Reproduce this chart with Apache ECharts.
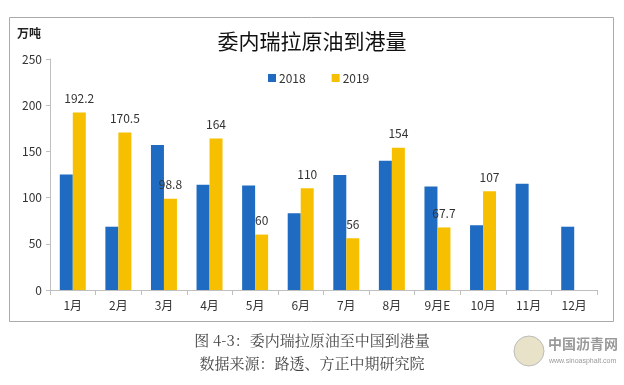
<!DOCTYPE html>
<html><head><meta charset="utf-8">
<script src="https://cdn.jsdelivr.net/npm/echarts@6/dist/echarts.min.js"></script>
<style>html,body{margin:0;padding:0;background:#fff}#c{width:624px;height:385px}</style>
</head><body><div id="c"></div>
<script>
const categories = ['1月','2月','3月','4月','5月','6月','7月','8月','9月E','10月','11月','12月'];
const values2018 = [125, 68.5, 157, 114, 113, 83, 124.5, 140, 112, 70, 115, 68.5];
const values2019 = [192.2, 170.5, 98.8, 164, 60, 110, 56, 154, 67.7, 107, null, null];
const yTicks = {min: 0, max: 250, interval: 50};

const chart = echarts.init(document.getElementById('c'));
const cjk = '"Noto Sans CJK SC", "Noto Sans", sans-serif';
chart.setOption({
  animation: false,
  textStyle: {fontFamily: cjk},
  title: {
    text: '委内瑞拉原油到港量', left: 'center', top: 26,
    textStyle: {fontSize: 21, fontWeight: 'normal', color: '#111', fontFamily: cjk}
  },
  legend: {
    left: 263, top: 67, itemWidth: 8, itemHeight: 8, itemGap: 26,
    icon: 'rect',
    textStyle: {fontSize: 12, color: '#333', padding: [0,0,0,-2]},
    data: ['2018','2019']
  },
  grid: {left: 50, right: 27, top: 59, bottom: 95},
  xAxis: {
    type: 'category', data: categories,
    axisLine: {lineStyle: {color: '#bfbfbf'}},
    axisTick: {show: true, alignWithLabel: false, length: 5, lineStyle: {color: '#bfbfbf'}},
    axisLabel: {fontSize: 12, color: '#333', margin: 9}
  },
  yAxis: {
    type: 'value', min: yTicks.min, max: yTicks.max, interval: yTicks.interval,
    axisLine: {show: true, lineStyle: {color: '#bfbfbf'}},
    axisTick: {show: true, length: 4, lineStyle: {color: '#bfbfbf'}},
    splitLine: {show: false},
    axisLabel: {fontSize: 12, color: '#333', margin: 8}
  },
  series: [
    {name: '2018', type: 'bar', data: values2018, barWidth: 13, barGap: '0%',
     itemStyle: {color: '#1F6BC1'}},
    {name: '2019', type: 'bar', data: values2019, barWidth: 13,
     itemStyle: {color: '#F6C000'},
     label: {show: true, position: 'top', distance: 8, fontSize: 12, color: '#333'}}
  ],
  graphic: [
    {type: 'rect', shape: {x: 9.5, y: 17.5, width: 604, height: 304},
     style: {fill: null, stroke: '#aaaaaa', lineWidth: 1}, z: -1},
    {type: 'text', left: 17, top: 27, style: {text: '万吨', fontSize: 12, fontWeight: 'bold', fill: '#222', fontFamily: cjk}},
    {type: 'text', x: 312, y: 340, style: {text: '图 4-3：委内瑞拉原油至中国到港量', fontSize: 15, fill: '#444', fontFamily: '"Noto Serif CJK SC", "Noto Sans CJK SC", serif', align: 'center', verticalAlign: 'middle'}},
    {type: 'text', x: 312, y: 363, style: {text: '数据来源：路透、方正中期研究院', fontSize: 15, fill: '#444', fontFamily: '"Noto Serif CJK SC", "Noto Sans CJK SC", serif', align: 'center', verticalAlign: 'middle'}},
    {type: 'circle', shape: {cx: 529, cy: 351, r: 15}, style: {fill: '#e8e2c8', stroke: '#bbb', lineWidth: 1}},
    {type: 'text', x: 548, y: 344, style: {text: '中国沥青网', fontSize: 14, fontWeight: 'bold', fill: '#9a9a9a', fontFamily: cjk, verticalAlign: 'middle'}},
    {type: 'text', x: 549, y: 361, style: {text: 'www.sinoasphalt.com', fontSize: 7, fill: '#9a9a9a', verticalAlign: 'middle'}}
  ]
});
</script></body></html>
